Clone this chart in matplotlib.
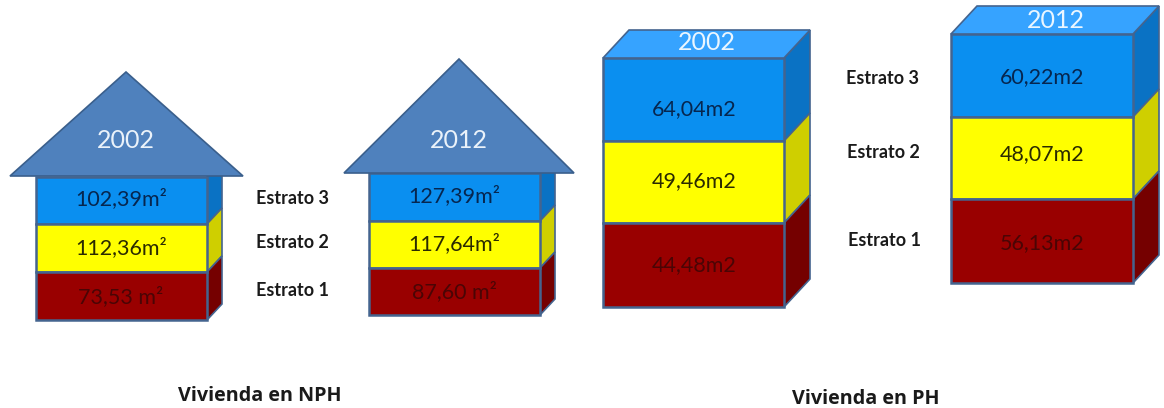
import matplotlib
matplotlib.use("Agg")
import matplotlib.pyplot as plt
from matplotlib.patches import Polygon, Rectangle

plt.rcParams['font.family'] = ['Lato', 'DejaVu Sans']

# Stratum labels and dwelling areas per block
strata = ["Estrato 3", "Estrato 2", "Estrato 1"]
years = ["2002", "2012", "2002", "2012"]
nph_2002 = ["102,39m²", "112,36m²", "73,53 m²"]
nph_2012 = ["127,39m²", "117,64m²", "87,60 m²"]
ph_2002 = ["64,04m2", "49,46m2", "44,48m2"]
ph_2012 = ["60,22m2", "48,07m2", "56,13m2"]
group_titles = ["Vivienda en NPH", "Vivienda en PH"]

FRONT = ["#0a8ff0", "#ffff00", "#990000"]
SIDE = ["#0a72c4", "#cfcf00", "#750000"]
TEXT = ["#06264f", "#2a2a00", "#4a0505"]
EDGE = "#44648f"


def block(ax, x0, x1, ys, dx, dy, labels, label_ys, label_x=None, fs=15.5):
    """Draw a three-band box with a receding right face."""
    for i in range(3):
        top, bot = ys[i], ys[i + 1]
        ax.add_patch(Polygon([(x1, top), (x1 + dx, top - dy), (x1 + dx, bot - dy), (x1, bot)],
                             fc=SIDE[i], ec=EDGE, lw=1.2, zorder=2))
    for i in range(3):
        top, bot = ys[i], ys[i + 1]
        ax.add_patch(Rectangle((x0, top), x1 - x0, bot - top, fc=FRONT[i], ec=EDGE, lw=1.8, zorder=3))
        ax.text((x0 + x1) / 2 if label_x is None else label_x, label_ys[i], labels[i],
                color=TEXT[i], fontsize=fs, ha="center", va="center", zorder=5)


def roof(ax, left, right, apex, base, year, year_y):
    ax.add_patch(Polygon([(left, base), (apex[0], apex[1]), (right, base)],
                         fc="#4f81bd", ec="#3a5f8c", lw=1.2, zorder=4))
    ax.text(apex[0], year_y, year, color="#eaf2fa", fontsize=18, ha="center", va="center", zorder=5)


def lid(ax, x0, x1, top, dx, dy, year, year_x, year_y):
    ax.add_patch(Polygon([(x0, top), (x0 + dx, top - dy), (x1 + dx, top - dy), (x1, top)],
                         fc="#36a3ff", ec=EDGE, lw=1.2, zorder=4))
    ax.text(year_x, year_y, year, color="#eaf6ff", fontsize=18, ha="center", va="center", zorder=5)


fig = plt.figure(figsize=(11.64, 4.08), dpi=100, facecolor="white")
ax = fig.add_axes([0, 0, 1, 1])
ax.set_xlim(0, 1164)
ax.set_ylim(408, 0)
ax.axis("off")

# Single-family houses
block(ax, 36, 207, [177, 224, 272, 320], 15, 16, nph_2002, [199, 248, 297], label_x=121)
roof(ax, 10, 243, (126, 72), 176, years[0], 141)
block(ax, 369, 540, [173, 221, 268, 315], 15, 16, nph_2012, [196, 244, 292], label_x=454)
roof(ax, 344, 574, (459, 59), 173, years[1], 141)

# Apartment towers
block(ax, 603, 784, [58, 141, 223, 307], 26, 28, ph_2002, [109, 181, 265], label_x=694)
lid(ax, 603, 784, 58, 26, 28, years[2], 707, 42)
block(ax, 951, 1133, [34, 117, 199, 283], 26, 28, ph_2012, [77, 154, 243], label_x=1042)
lid(ax, 951, 1133, 34, 26, 28, years[3], 1056, 21)

# Stratum captions beside each pair
for name, x, y in zip(strata, [292, 292, 292], [198, 243, 291]):
    ax.text(x, y, name, fontsize=13, fontweight="bold", color="#1a1a1a", ha="center", va="center")
for name, x, y in zip(strata, [883, 883, 884], [78, 152, 240]):
    ax.text(x, y, name, fontsize=13, fontweight="bold", color="#1a1a1a", ha="center", va="center")

ax.text(260, 396, group_titles[0], fontsize=14.2, fontweight="bold", family="Open Sans",
        color="#1a1a1a", ha="center", va="center")
ax.text(866, 399, group_titles[1], fontsize=14.2, fontweight="bold", family="Open Sans",
        color="#1a1a1a", ha="center", va="center")

fig.savefig("out.png", dpi=100)
